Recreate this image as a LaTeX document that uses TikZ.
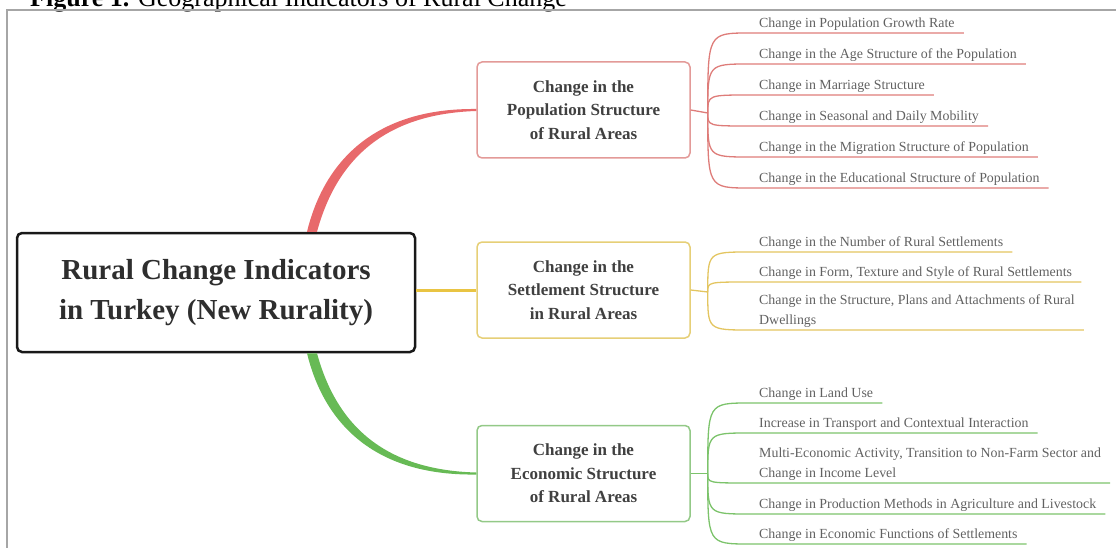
\documentclass[tikz,border=0pt]{standalone}
\usepackage{fontspec}
\setmainfont{Liberation Serif}

\definecolor{rootred}{HTML}{E8696B}
\definecolor{popline}{HTML}{DE7C79}
\definecolor{popbox}{HTML}{E39A98}
\definecolor{rootyellow}{HTML}{E9C443}
\definecolor{setline}{HTML}{E3C560}
\definecolor{setbox}{HTML}{E6CF77}
\definecolor{rootgreen}{HTML}{67BA55}
\definecolor{ecoline}{HTML}{7CC36B}
\definecolor{ecobox}{HTML}{93C987}

\tikzset{
  rootbox/.style={draw=black!90, line width=2.5pt, rounded corners=5pt,
    minimum width=398pt, minimum height=119pt, align=center,
    font=\fontsize{29}{40}\selectfont\bfseries, text=black!82},
  subbox/.style={line width=1.5pt, rounded corners=5pt, fill=white,
    minimum width=213pt, minimum height=96pt, align=center,
    font=\fontsize{17}{23.5}\selectfont\bfseries, text=black!75},
  leaf/.style={anchor=south west, inner xsep=9pt, inner ysep=2.5pt,
    align=left, font=\fontsize{13.9}{20}\selectfont, text=black!62},
  twig/.style={line width=1.3pt},
}

\begin{document}
\begin{tikzpicture}[x=1pt,y=-1pt]
  \useasboundingbox (0,0) rectangle (1116,548);

  % caption, cut at the top of the page
  \begin{scope}
    \clip (0,0) rectangle (1116,548);
    \node[anchor=base west, inner sep=0pt, font=\fontsize{26}{30}\selectfont] (caption)
      at (30,7) {\textbf{Figure 1.} Geographical Indicators of Rural Change};
  \end{scope}
  \draw[gray!70, line width=1.2pt] (7,548) -- (7,10) -- (1116,10);

  % main box and the three branches
  \node[rootbox] (root) at (216,292.5) {Rural Change Indicators\\in Turkey (New Rurality)};
  \node[subbox, draw=popbox] (pop) at (583.5,110) {Change in the\\Population Structure\\of Rural Areas};
  \node[subbox, draw=setbox] (set) at (583.5,290) {Change in the\\Settlement Structure\\in Rural Areas};
  \node[subbox, draw=ecobox] (eco) at (583.5,473.5) {Change in the\\Economic Structure\\of Rural Areas};

  \coordinate (rtop) at ([xshift=96pt]root.north);
  \coordinate (rbot) at ([xshift=96pt]root.south);

  \fill[rootred] ([xshift=-5pt]rtop) .. controls (325,158) and (378,108) .. ([yshift=1pt]pop.west)
    -- ([yshift=-1pt]pop.west) .. controls (382,114) and (336,162) .. ([xshift=5pt]rtop) -- cycle;
  \fill[rootgreen] ([xshift=-5pt]rbot) .. controls (325,427) and (378,476) .. ([yshift=-1pt]eco.west)
    -- ([yshift=1pt]eco.west) .. controls (382,470) and (336,423) .. ([xshift=5pt]rbot) -- cycle;
  \draw[rootyellow, line width=3pt] (root.east |- set.west) -- (set.west);

  \coordinate (po) at ([xshift=17pt,yshift=-3pt]pop.east);
  \coordinate (so) at ([xshift=17pt,yshift=-2pt]set.east);
  \coordinate (eo) at ([xshift=17pt]eco.east);

  % population leaves
  \node[leaf] (p1) at (750,33) {Change in Population Growth Rate};
  \node[leaf] (p2) at (750,64) {Change in the Age Structure of the Population};
  \node[leaf] (p3) at (750,95) {Change in Marriage Structure};
  \node[leaf] (p4) at (750,126) {Change in Seasonal and Daily Mobility};
  \node[leaf] (p5) at (750,157) {Change in the Migration Structure of Population};
  \node[leaf] (p6) at (750,188) {Change in the Educational Structure of Population};

  % settlement leaves
  \node[leaf] (s1) at (750,252) {Change in the Number of Rural Settlements};
  \node[leaf] (s2) at (750,282) {Change in Form, Texture and Style of Rural Settlements};
  \node[leaf] (s3) at (750,330) {Change in the Structure, Plans and Attachments of Rural\\Dwellings};

  % economic leaves
  \node[leaf] (e1) at (750,403) {Change in Land Use};
  \node[leaf] (e2) at (750,433) {Increase in Transport and Contextual Interaction};
  \node[leaf] (e3) at (750,483) {Multi-Economic Activity, Transition to Non-Farm Sector and\\Change in Income Level};
  \node[leaf] (e4) at (750,514) {Change in Production Methods in Agriculture and Livestock};
  \node[leaf] (e5) at (750,544) {Change in Economic Functions of Settlements};

  \draw[twig, popline] (pop.east) -- (po);
  \foreach \i in {1,...,6}
  {
      \draw[twig, popline] (po) .. controls (po |- p\i.south west) .. (p\i.south west) -- (p\i.south east);
  }
  \draw[twig, setline] (set.east) -- (so);
  \foreach \i in {1,2,3}
  {
      \draw[twig, setline] (so) .. controls (so |- s\i.south west) .. (s\i.south west) -- (s\i.south east);
  }
  \draw[twig, ecoline] (eco.east) -- (eo);
  \foreach \i in {1,...,5}
  {
      \draw[twig, ecoline] (eo) .. controls (eo |- e\i.south west) .. (e\i.south west) -- (e\i.south east);
  }
\end{tikzpicture}
\end{document}
